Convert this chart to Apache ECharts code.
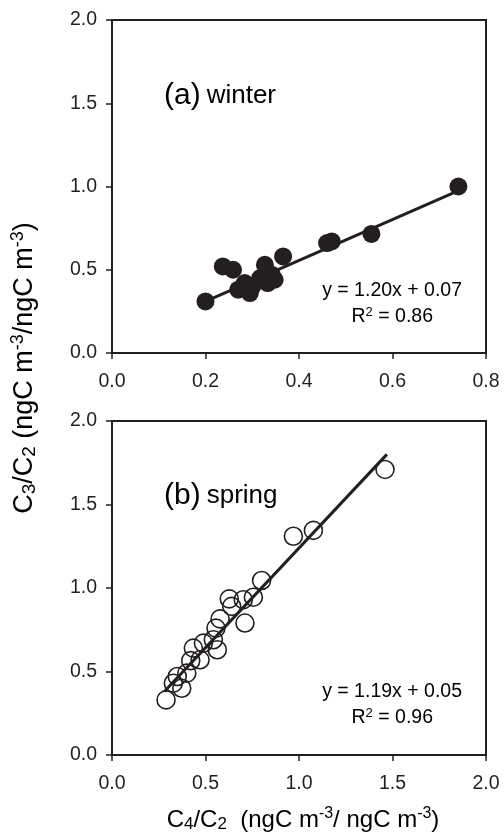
<!DOCTYPE html>
<html>
<head>
<meta charset="utf-8">
<title>C3/C2 vs C4/C2</title>
<script src="https://cdn.jsdelivr.net/npm/echarts@6/dist/echarts.min.js"></script>
<style>
  html, body { margin: 0; padding: 0; background: #fff; }
  #main { width: 504px; height: 835px; }
</style>
</head>
<body>
<div id="main"></div>
<script>
// winter (a) - filled circles
var winterX = [0.200, 0.237, 0.259, 0.270, 0.284, 0.295, 0.300, 0.317, 0.327, 0.333, 0.342, 0.348, 0.366, 0.460, 0.470, 0.555, 0.741];
var winterY = [0.31, 0.52, 0.50, 0.38, 0.42, 0.36, 0.40, 0.45, 0.53, 0.42, 0.47, 0.44, 0.58, 0.66, 0.67, 0.715, 1.00];
// spring (b) - open circles
var springX = [0.289, 0.328, 0.349, 0.373, 0.400, 0.421, 0.435, 0.471, 0.489, 0.542, 0.563, 0.556, 0.578, 0.627, 0.640, 0.702, 0.711, 0.756, 0.800, 0.970, 1.077, 1.460];
var springY = [0.33, 0.43, 0.47, 0.40, 0.49, 0.565, 0.64, 0.57, 0.67, 0.69, 0.63, 0.76, 0.815, 0.935, 0.89, 0.93, 0.79, 0.945, 1.045, 1.31, 1.345, 1.71];
// regression lines, end points
var winterFit = [[0.200, 0.31], [0.745, 0.98]];
var springFit = [[0.280, 0.38], [1.470, 1.80]];
var winterEq = ['y = 1.20x + 0.07', '0.86'];
var springEq = ['y = 1.19x + 0.05', '0.96'];

function zip(xs, ys) {
  var out = [];
  xs.forEach(function (v, i) { out.push([v, ys[i]]); });
  return out;
}

var FONT = 'Liberation Sans, Arial, sans-serif';
var INK = '#231f20';

function xAxisOf(idx, max, interval) {
  return {
    gridIndex: idx, type: 'value', min: 0, max: max, interval: interval,
    axisLine: { show: true, onZero: false, lineStyle: { color: INK, width: 2 } },
    axisTick: { show: true, inside: false, length: 6, lineStyle: { color: INK, width: 1.5 } },
    axisLabel: { color: INK, fontSize: 19.5, fontFamily: FONT, margin: 19,
      formatter: function (v) { return v.toFixed(1); } },
    splitLine: { show: false }
  };
}
function yAxisOf(idx) {
  return {
    gridIndex: idx, type: 'value', min: 0, max: 2, interval: 0.5,
    axisLine: { show: true, onZero: false, lineStyle: { color: INK, width: 2 } },
    axisTick: { show: true, inside: false, length: 6, lineStyle: { color: INK, width: 1.5 } },
    axisLabel: { color: INK, fontSize: 19.5, fontFamily: FONT, margin: 15,
      formatter: function (v) { return v.toFixed(1); } },
    splitLine: { show: false }
  };
}

var rich = {
  big: { fontSize: 30, fontFamily: FONT, color: INK },
  word: { fontSize: 26, fontFamily: FONT, color: INK, padding: [0, 0, 0, 6] },
  eq: { fontSize: 19.5, fontFamily: FONT, color: INK },
  esup: { fontSize: 13, fontFamily: FONT, color: INK, padding: [0, 0, 10, 0] },
  t: { fontSize: 24, fontFamily: FONT, color: INK },
  sup: { fontSize: 16, fontFamily: FONT, color: INK, padding: [0, 0, 12, 0] },
  sub: { fontSize: 17, fontFamily: FONT, color: INK, padding: [9, 0, 0, 0] },
  ty: { fontSize: 27, fontFamily: FONT, color: INK },
  supy: { fontSize: 18, fontFamily: FONT, color: INK, padding: [0, 0, 13, 0] },
  suby: { fontSize: 19, fontFamily: FONT, color: INK, padding: [10, 0, 0, 0] }
};
var titleX = '{t|C}{sub|4}{t|/C}{sub|2}{t|  (ngC m}{sup|-3}{t|/ ngC m}{sup|-3}{t|)}';
var titleY = '{ty|C}{suby|3}{ty|/C}{suby|2}{ty| (ngC m}{supy|-3}{ty|/ngC m}{supy|-3}{ty|)}';

var chart = echarts.init(document.getElementById('main'));
chart.setOption({
  animation: false,
  backgroundColor: '#fff',
  grid: [
    { left: 112, top: 20, width: 374, height: 333, show: true, borderColor: INK, borderWidth: 2 },
    { left: 112, top: 421, width: 374, height: 334, show: true, borderColor: INK, borderWidth: 2 }
  ],
  xAxis: [xAxisOf(0, 0.8, 0.2), xAxisOf(1, 2, 0.5)],
  yAxis: [yAxisOf(0), yAxisOf(1)],
  series: [
    { type: 'line', xAxisIndex: 0, yAxisIndex: 0, data: winterFit, symbol: 'none',
      lineStyle: { color: INK, width: 3 }, z: 2 },
    { type: 'scatter', xAxisIndex: 0, yAxisIndex: 0, data: zip(winterX, winterY),
      symbolSize: 18, itemStyle: { color: INK, opacity: 1 }, z: 3 },
    { type: 'line', xAxisIndex: 1, yAxisIndex: 1, data: springFit, symbol: 'none',
      lineStyle: { color: INK, width: 3 }, z: 2 },
    { type: 'scatter', xAxisIndex: 1, yAxisIndex: 1, data: zip(springX, springY),
      symbolSize: 18, itemStyle: { color: 'rgba(0,0,0,0)', borderColor: INK, borderWidth: 1.6, opacity: 1 }, z: 3 }
  ],
  graphic: [
    { type: 'text', x: 164, y: 96, style: { text: '{big|(a)}{word|winter}', rich: rich, align: 'left', verticalAlign: 'middle' } },
    { type: 'text', x: 462, y: 291, style: { text: '{eq|' + winterEq[0] + '}', rich: rich, align: 'right', verticalAlign: 'middle' } },
    { type: 'text', x: 433, y: 317, style: { text: '{eq|R}{esup|2}{eq| = ' + winterEq[1] + '}', rich: rich, align: 'right', verticalAlign: 'middle' } },
    { type: 'text', x: 164, y: 496, style: { text: '{big|(b)}{word|spring}', rich: rich, align: 'left', verticalAlign: 'middle' } },
    { type: 'text', x: 462, y: 692, style: { text: '{eq|' + springEq[0] + '}', rich: rich, align: 'right', verticalAlign: 'middle' } },
    { type: 'text', x: 433, y: 718, style: { text: '{eq|R}{esup|2}{eq| = ' + springEq[1] + '}', rich: rich, align: 'right', verticalAlign: 'middle' } },
    { type: 'text', x: 25, y: 368, rotation: Math.PI / 2,
      style: { text: titleY, rich: rich, align: 'center', verticalAlign: 'middle' } },
    { type: 'text', x: 303, y: 820,
      style: { text: titleX, rich: rich, align: 'center', verticalAlign: 'middle' } }
  ]
});
</script>
</body>
</html>
